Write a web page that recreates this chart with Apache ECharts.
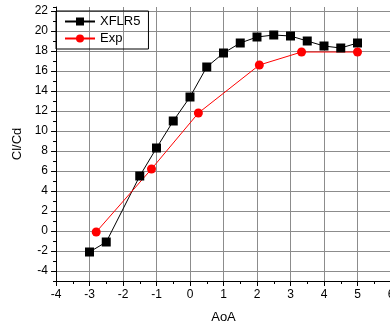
<!DOCTYPE html>
<html>
<head>
<meta charset="utf-8">
<script src="https://cdn.jsdelivr.net/npm/echarts@6/dist/echarts.min.js"></script>
<style>
  html, body { margin: 0; padding: 0; background: #fff; }
  #main { width: 390px; height: 323px; }
</style>
</head>
<body>
<div id="main"></div>
<script>
// XFLR5 results
var xflrAoA = [-3, -2.5, -1.5, -1, -0.5, 0, 0.5, 1, 1.5, 2, 2.5, 3, 3.5, 4, 4.5, 5];
var xflrClCd = [-2.1, -1.1, 5.5, 8.3, 11.0, 13.4, 16.4, 17.8, 18.8, 19.4, 19.6, 19.5, 19.0, 18.5, 18.3, 18.8];
// experiment
var expAoA = [-2.8, -1.15, 0.25, 2.07, 3.33, 5.0];
var expClCd = [-0.1, 6.2, 11.8, 16.6, 17.9, 17.9];
// axis labels
var yTicks = [-4, -2, 0, 2, 4, 6, 8, 10, 12, 14, 16, 18, 20, 22];

function pairs(xs, ys) {
  return xs.map(function (x, i) { return [x, ys[i]]; });
}

var chart = echarts.init(document.getElementById('main'));
var font = 'Liberation Sans, Arial, sans-serif';
chart.setOption({
  animation: false,
  textStyle: { fontFamily: font },
  grid: { left: 56, right: -1, top: 7, bottom: 42, containLabel: false, outerBoundsMode: 'none' },
  legend: {
    orient: 'vertical',
    left: 56, top: 11,
    borderColor: '#000', borderWidth: 1,
    padding: [4, 8, 4, 8],
    itemGap: 4,
    itemWidth: 30, itemHeight: 10,
    textStyle: { fontSize: 13, color: '#000', fontFamily: font },
    data: ['XFLR5', 'Exp']
  },
  xAxis: {
    type: 'value',
    min: -4, max: 6, interval: 1,
    name: 'AoA', nameLocation: 'middle', nameGap: 30,
    nameTextStyle: { fontSize: 13, color: '#000' },
    axisLine: { onZero: false, lineStyle: { color: '#000', width: 1 } },
    axisTick: { show: true, length: 5, inside: false, lineStyle: { color: '#000' } },
    minorTick: { show: true, splitNumber: 2, length: 3, lineStyle: { color: '#000' } },
    axisLabel: { fontSize: 12, color: '#000', margin: 8, hideOverlap: false },
    splitLine: { show: true, lineStyle: { color: '#8c8c8c', width: 1 } }
  },
  yAxis: [{
    type: 'value',
    min: -5, max: 22.4,
    name: 'Cl/Cd', nameLocation: 'middle', nameGap: 29,
    nameTextStyle: { fontSize: 13, color: '#000' },
    axisLine: { show: true, onZero: false, lineStyle: { color: '#000', width: 1 } },
    axisTick: { show: true, length: 5, customValues: yTicks, lineStyle: { color: '#000' } },
    axisLabel: { fontSize: 12, color: '#000', margin: 8, customValues: yTicks, showMaxLabel: true, showMinLabel: true },
    splitLine: { show: true, lineStyle: { color: '#8c8c8c', width: 1 } }
  }, {
    // minor ticks only
    type: 'value',
    position: 'left',
    min: -5, max: 22.4, interval: 1,
    axisLine: { show: false, onZero: false },
    axisTick: { show: true, length: 3, lineStyle: { color: '#000' } },
    axisLabel: { show: false },
    splitLine: { show: false }
  }],
  series: [{
    name: 'XFLR5',
    type: 'line',
    data: pairs(xflrAoA, xflrClCd),
    symbol: 'rect', symbolSize: 9,
    lineStyle: { color: '#000', width: 1 },
    itemStyle: { color: '#000' }
  }, {
    name: 'Exp',
    type: 'line',
    data: pairs(expAoA, expClCd),
    symbol: 'circle', symbolSize: 9,
    lineStyle: { color: '#ff0000', width: 1 },
    itemStyle: { color: '#ff0000' }
  }]
});
</script>
</body>
</html>
